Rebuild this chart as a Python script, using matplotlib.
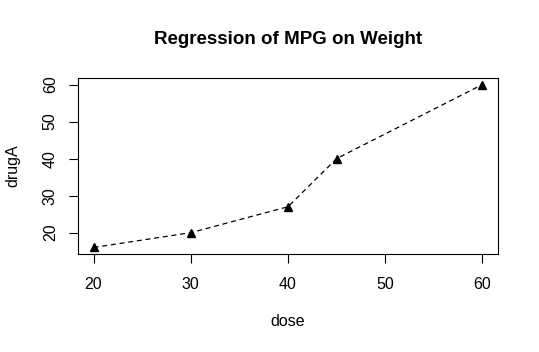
import matplotlib
matplotlib.use("Agg")
import matplotlib.pyplot as plt

dose = [20, 30, 40, 45, 60]
drugA = [16, 20, 27, 40, 60]
xticks = [20, 30, 40, 50, 60]
yticks = [20, 30, 40, 50, 60]

plt.rcParams['font.family'] = ['Liberation Sans', 'DejaVu Sans']

fig = plt.figure(figsize=(5.39, 3.52), dpi=100)
# plot region in pixels: left 78, right 498, top 78, bottom 254
ax = fig.add_axes([78 / 539, 1 - 254 / 352, 420 / 539, 176 / 352])

ax.plot(dose, drugA, color='black', linestyle=(0, (4, 3)), linewidth=0.9,
        marker='^', markersize=5.5, markerfacecolor='black', markeredgecolor='black')

# R-style 4% axis extension
xr = max(dose) - min(dose)
yr = max(drugA) - min(drugA)
ax.set_xlim(min(dose) - 0.04 * xr, max(dose) + 0.04 * xr)
ax.set_ylim(min(drugA) - 0.04 * yr, max(drugA) + 0.04 * yr)

ax.set_xticks(xticks)
ax.set_yticks(yticks)
ax.tick_params(axis='both', direction='out', length=6.5, width=0.8, labelsize=11.5)
ax.tick_params(axis='x', pad=10)
ax.tick_params(axis='y', pad=8)
for lab in ax.get_yticklabels():
    lab.set_rotation(90)
    lab.set_va('center')
for sp in ax.spines.values():
    sp.set_linewidth(0.8)

fig.text(288 / 539, 1 - 40 / 352, 'Regression of MPG on Weight', ha='center', va='center',
         fontsize=13.5, fontweight='bold')
fig.text(288 / 539, 1 - 322 / 352, 'dose', ha='center', va='center', fontsize=11.5)
fig.text(13 / 539, 1 - 166 / 352, 'drugA', ha='center', va='center', rotation=90, fontsize=11.5)

fig.savefig('out.png', dpi=100)
